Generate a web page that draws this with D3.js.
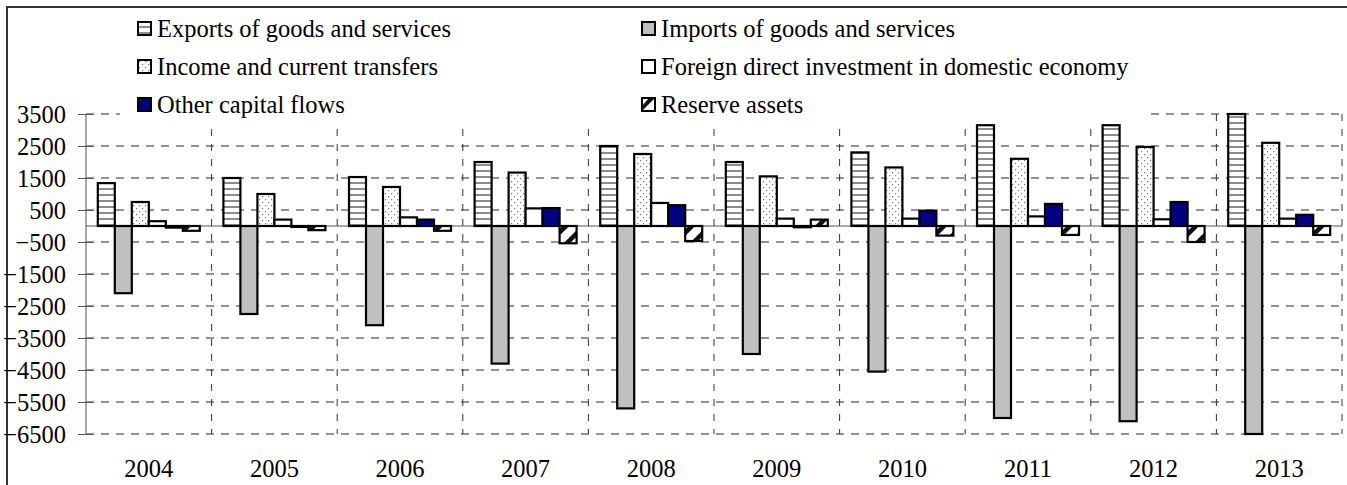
<!DOCTYPE html>
<html>
<head>
<meta charset="utf-8">
<script src="https://cdn.jsdelivr.net/npm/d3@7"></script>
<style>
  html, body { margin: 0; padding: 0; background: #fff; }
  svg { display: block; }
</style>
</head>
<body>
<svg id="chart" width="1347" height="485"></svg>
<script>
// Balance of payments components, 2004-2013
const years = ["2004", "2005", "2006", "2007", "2008", "2009", "2010", "2011", "2012", "2013"];
const seriesNames = [
  "Exports of goods and services",
  "Imports of goods and services",
  "Income and current transfers",
  "Foreign direct investment in domestic economy",
  "Other capital flows",
  "Reserve assets"
];
const exportsVals = [1340, 1500, 1530, 2000, 2500, 2000, 2300, 3150, 3150, 3500];
const importsVals = [-2100, -2750, -3100, -4300, -5700, -4000, -4550, -6000, -6100, -6500];
const incomeVals  = [750, 1000, 1220, 1670, 2250, 1550, 1830, 2100, 2470, 2600];
const fdiVals     = [150, 200, 270, 550, 720, 230, 230, 300, 210, 230];
const otherVals   = [-50, -30, 200, 560, 650, -40, 480, 690, 750, 350];
const reserveVals = [-150, -130, -150, -540, -470, 200, -300, -280, -500, -280];
const yTicks = [3500, 2500, 1500, 500, -500, -1500, -2500, -3500, -4500, -5500, -6500];

const seriesVals = [exportsVals, importsVals, incomeVals, fdiVals, otherVals, reserveVals];
const fills = ["url(#pStripes)", "#c0c0c0", "url(#pDots)", "#ffffff", "#000080", "url(#pDiag)"];

const svg = d3.select("#chart");
const W = 1347, H = 485;
const plot = { left: 86, right: 1342, top: 114, bottom: 434 };
const FONT = 24.5;
const SERIF = '"Liberation Serif", "Times New Roman", serif';

// ---------- fill patterns ----------
const defs = svg.append("defs");
const stripes = defs.append("pattern").attr("id", "pStripes")
  .attr("patternUnits", "userSpaceOnUse").attr("width", 6).attr("height", 6);
stripes.append("rect").attr("width", 6).attr("height", 6).attr("fill", "#fff");
stripes.append("rect").attr("y", 2).attr("width", 6).attr("height", 2).attr("fill", "#8c8c8c");

const dots = defs.append("pattern").attr("id", "pDots")
  .attr("patternUnits", "userSpaceOnUse").attr("width", 6).attr("height", 6);
dots.append("rect").attr("width", 6).attr("height", 6).attr("fill", "#fff");
dots.append("rect").attr("x", 1).attr("y", 1).attr("width", 1.2).attr("height", 1.2).attr("fill", "#777");
dots.append("rect").attr("x", 4).attr("y", 4).attr("width", 1.2).attr("height", 1.2).attr("fill", "#777");

const diag = defs.append("pattern").attr("id", "pDiag")
  .attr("patternUnits", "userSpaceOnUse").attr("width", 18).attr("height", 18);
diag.append("rect").attr("width", 18).attr("height", 18).attr("fill", "#fff");
diag.append("path").attr("d", "M-2,20 L20,-2 M-2,2 L2,-2 M16,20 L20,16")
  .attr("stroke", "#111").attr("stroke-width", 4.5);

// ---------- outer frame ----------
svg.append("rect").attr("x", 7).attr("y", 7).attr("width", W + 20).attr("height", H + 20)
  .attr("fill", "none").attr("stroke", "#333").attr("stroke-width", 2);

// ---------- scales ----------
const x0 = d3.scaleBand().domain(years).range([plot.left, plot.right]).padding(0);
const groupFrac = 0.812;
const x1 = d3.scaleBand().domain(d3.range(seriesNames.length))
  .range([0, x0.bandwidth() * groupFrac]).padding(0);
const groupOffset = x0.bandwidth() * (1 - groupFrac) / 2;
const y = d3.scaleLinear().domain([-6500, 3500]).range([plot.bottom, plot.top]);

// ---------- grid ----------
const grid = svg.append("g");
grid.selectAll("line.h").data(yTicks).join("line")
  .attr("x1", plot.left).attr("x2", plot.right)
  .attr("y1", d => y(d)).attr("y2", d => y(d))
  .attr("stroke", "#707070").attr("stroke-width", 1.3).attr("stroke-dasharray", "8,7");
const boundaries = years.map(d => x0(d) + x0.bandwidth());
grid.selectAll("line.v").data(boundaries).join("line")
  .attr("x1", d => d).attr("x2", d => d)
  .attr("y1", plot.top).attr("y2", plot.bottom)
  .attr("stroke", "#333").attr("stroke-width", 1).attr("stroke-dasharray", "7,8");

// ---------- legend background ----------
svg.append("rect").attr("x", 120).attr("y", 12).attr("width", 1026).attr("height", 110).attr("fill", "#fff");

// ---------- y axis ----------
const yAxis = d3.axisLeft(y).tickValues(yTicks).tickSize(8).tickPadding(12).tickFormat(d3.format("d"));
const ya = svg.append("g").attr("transform", `translate(${plot.left},0)`).call(yAxis);
ya.select(".domain").attr("stroke", "#555").attr("stroke-width", 1)
  .attr("d", `M0,${plot.top}V${plot.bottom}`);
ya.selectAll(".tick line").attr("stroke", "#555").attr("x1", 7);
ya.selectAll(".tick text")
  .style("font-family", SERIF).style("font-size", FONT + "px")
  .attr("fill", "#000").attr("dy", "0.33em");

// zero line
svg.append("line").attr("x1", plot.left).attr("x2", plot.right)
  .attr("y1", y(0)).attr("y2", y(0)).attr("stroke", "#555").attr("stroke-width", 1);

// ---------- bars ----------
const barData = [];
years.forEach((yr, i) => {
  seriesVals.forEach((vals, s) => barData.push({ yr, s, v: vals[i] }));
});
svg.append("g").selectAll("rect").data(barData).join("rect")
  .attr("x", d => x0(d.yr) + groupOffset + x1(d.s))
  .attr("width", x1.bandwidth())
  .attr("y", d => y(Math.max(0, d.v)))
  .attr("height", d => Math.abs(y(d.v) - y(0)))
  .attr("fill", d => fills[d.s])
  .attr("stroke", "#000").attr("stroke-width", 2.2);

// ---------- x labels ----------
svg.append("g").selectAll("text").data(years).join("text")
  .attr("x", d => x0(d) + x0.bandwidth() / 2)
  .attr("y", 477)
  .attr("text-anchor", "middle")
  .style("font-family", SERIF).style("font-size", FONT + "px")
  .attr("fill", "#000")
  .text(d => d);

// ---------- legend ----------
const legendCols = [137, 641];
const legendRows = [29, 67, 105];
const lg = svg.append("g");
seriesNames.forEach((name, i) => {
  const cx = legendCols[i % 2], cy = legendRows[Math.floor(i / 2)];
  const g = lg.append("g");
  g.append("rect").attr("x", cx + 1).attr("y", cy - 7).attr("width", 13).attr("height", 13)
    .attr("fill", i === 5 ? "#fff" : fills[i]).attr("stroke", "#000").attr("stroke-width", 2);
  if (i === 5) {
    g.append("path").attr("d", `M${cx + 1},${cy + 6} L${cx + 1},${cy + 1} L${cx + 8},${cy - 7} L${cx + 14},${cy - 7} Z`)
      .attr("fill", "#111");
  }
  g.append("text").attr("x", cx + 20).attr("y", cy + 8)
    .style("font-family", SERIF).style("font-size", FONT + "px")
    .attr("fill", "#000").text(name);
});
</script>
</body>
</html>
